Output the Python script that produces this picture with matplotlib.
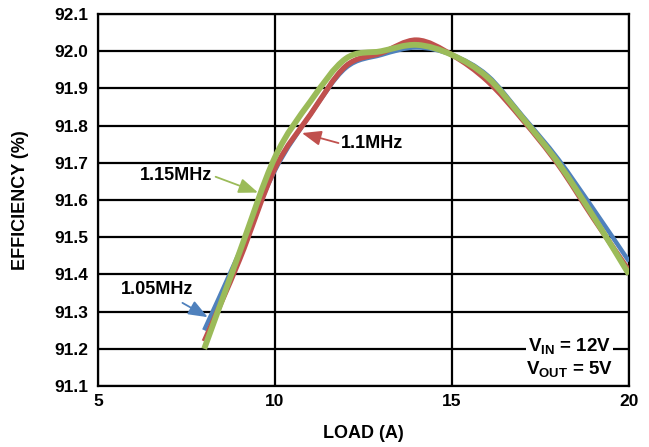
import matplotlib
matplotlib.use("Agg")
import matplotlib.pyplot as plt
from matplotlib.path import Path
from matplotlib.patches import PathPatch

load = [8, 9, 10, 11, 12, 13, 14, 15, 16, 17, 18, 19, 20]
eff_105 = [91.25, 91.46, 91.68, 91.83, 91.955, 91.99, 92.01, 91.99, 91.935, 91.825, 91.71, 91.575, 91.435]
eff_110 = [91.22, 91.44, 91.685, 91.83, 91.96, 91.995, 92.03, 91.99, 91.92, 91.815, 91.695, 91.55, 91.41]
eff_115 = [91.20, 91.46, 91.715, 91.865, 91.98, 92.0, 92.017, 91.99, 91.93, 91.82, 91.70, 91.555, 91.40]

xticks = [5, 10, 15, 20]
yticks = [91.1, 91.2, 91.3, 91.4, 91.5, 91.6, 91.7, 91.8, 91.9, 92.0, 92.1]

BLUE = "#4F81BD"
RED = "#C0504D"
GREEN = "#9BBB59"

plt.rcParams['font.family'] = ['Liberation Sans', 'DejaVu Sans']
plt.rcParams['font.weight'] = 'bold'
plt.rcParams['mathtext.fontset'] = 'custom'
plt.rcParams['mathtext.bf'] = 'Liberation Sans:bold'
plt.rcParams['mathtext.rm'] = 'Liberation Sans:bold'
FS = 13
TFS = 12.5


def smooth_line(ax, xs, ys, color, lw, z):
    # Excel-style smoothed line: cubic Bezier segments through the data points
    n = len(xs)
    verts = [(xs[0], ys[0])]
    codes = [Path.MOVETO]
    for i in range(n - 1):
        x0, y0 = xs[max(i - 1, 0)], ys[max(i - 1, 0)]
        x1, y1 = xs[i], ys[i]
        x2, y2 = xs[i + 1], ys[i + 1]
        x3, y3 = xs[min(i + 2, n - 1)], ys[min(i + 2, n - 1)]
        c1 = (x1 + (x2 - x0) / 6.0, y1 + (y2 - y0) / 6.0)
        c2 = (x2 - (x3 - x1) / 6.0, y2 - (y3 - y1) / 6.0)
        verts += [c1, c2, (x2, y2)]
        codes += [Path.CURVE4, Path.CURVE4, Path.CURVE4]
    patch = PathPatch(Path(verts, codes), facecolor='none', edgecolor=color, lw=lw,
                      joinstyle='round', capstyle='butt', zorder=z)
    ax.add_patch(patch)


fig = plt.figure(figsize=(6.49, 4.47), dpi=100)
ax = fig.add_axes([98/649, 61/447, 531/649, 372/447])

smooth_line(ax, load, eff_105, BLUE, 3.2, 3)
smooth_line(ax, load, eff_110, RED, 3.8, 4)
smooth_line(ax, load, eff_115, GREEN, 4.2, 5)

ax.set_xlim(5, 20)
ax.set_ylim(91.1, 92.1)
ax.set_xticks(xticks)
ax.set_yticks(yticks)
ax.set_xticklabels([str(v) for v in xticks], fontsize=TFS, fontweight='bold')
ax.set_yticklabels([f"{v:.1f}" for v in yticks], fontsize=TFS, fontweight='bold')
ax.tick_params(axis='y', length=0, pad=7)
ax.tick_params(axis='x', length=0, pad=6)
ax.grid(True, color='black', lw=1.6)
ax.set_axisbelow(True)
for s in ax.spines.values():
    s.set_linewidth(1.6)
    s.set_color('black')

ax.set_xlabel("LOAD (A)", fontsize=FS, fontweight='bold', labelpad=11)
ax.set_ylabel("EFFICIENCY (%)", fontsize=FS, fontweight='bold', labelpad=18)

arrow_kw = dict(arrowstyle='-|>,head_length=0.9,head_width=0.35', lw=1.3, shrinkA=0, shrinkB=0)
ax.annotate("1.05MHz", xy=(8.1, 91.285), xytext=(6.67, 91.36), fontsize=FS, fontweight='bold',
            ha='center', va='center', zorder=6,
            arrowprops=dict(color=BLUE, relpos=(0.85, -0.3), **arrow_kw))
ax.annotate("1.1MHz", xy=(10.76, 91.78), xytext=(12.75, 91.752), fontsize=FS, fontweight='bold',
            ha='center', va='center', zorder=6,
            arrowprops=dict(color=RED, relpos=(-0.02, 0.5), **arrow_kw))
ax.annotate("1.15MHz", xy=(9.52, 91.62), xytext=(7.2, 91.667), fontsize=FS, fontweight='bold',
            ha='center', va='center', zorder=6,
            arrowprops=dict(color=GREEN, relpos=(1.05, 0.4), **arrow_kw))

ax.text(18.33, 91.205, r"V$_{\mathbf{IN}}$ = 12V", fontsize=13.5, fontweight='bold', ha='center', va='center',
        bbox=dict(facecolor='white', edgecolor='none', pad=1.5), zorder=6)
ax.text(18.33, 91.143, r"V$_{\mathbf{OUT}}$ = 5V", fontsize=13.5, fontweight='bold', ha='center', va='center',
        bbox=dict(facecolor='white', edgecolor='none', pad=1.5), zorder=6)

fig.savefig("out.png", dpi=100)
